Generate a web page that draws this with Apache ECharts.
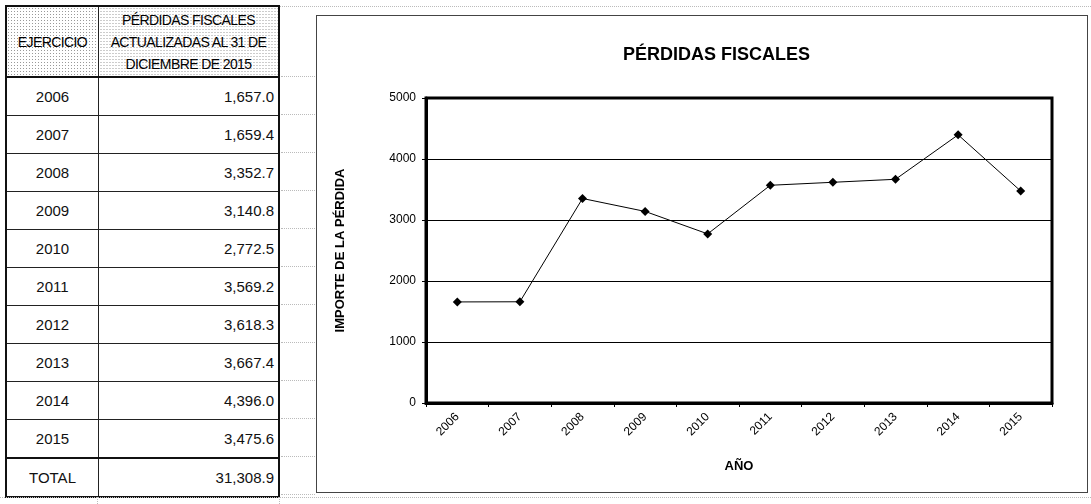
<!DOCTYPE html>
<html>
<head>
<meta charset="utf-8">
<script src="https://cdn.jsdelivr.net/npm/echarts@6/dist/echarts.min.js"></script>
<style>
  body { margin: 0; background: #fff; width: 1091px; height: 504px; position: relative; overflow: hidden; }
  #tabla { position: absolute; left: 5px; top: 5px; border-collapse: collapse; border: 2px solid #111;
    font-family: "Liberation Sans", Arial, sans-serif; color: #111; }
  #tabla td { border: 1px solid #222; padding: 0 4px; height: 37px; font-size: 15px; }
  #tabla td.anio { width: 83px; text-align: center; }
  #tabla td.val { width: 171px; text-align: right; }
  #tabla th { height: 69px; font-weight: normal; font-family: "Liberation Sans Narrow", "Liberation Sans", Arial, sans-serif;
    font-size: 14px; letter-spacing: -0.6px; line-height: 22px; color: #000; border: 1px solid #222; border-bottom: 2px solid #111; padding: 0;
    background-color: #fff; background-image: radial-gradient(#999 0.7px, transparent 0.8px); background-size: 3px 3px; }
  #tabla tr.total td { border-top: 2px solid #111; }
  .dot { position: absolute; border-color: #bbb; border-style: dotted; border-width: 0; }
  #chart { position: absolute; left: 316px; top: 15px; width: 772px; height: 478px; border: 1px solid #444; box-sizing: border-box; }
</style>
</head>
<body>
<table id="tabla"></table>
<div class="dot" style="left:280px;top:6px;width:811px;border-top-width:1px"></div>
<div class="dot" style="left:0;top:497px;width:1091px;border-top-width:1px"></div>
<div class="dot" style="left:97px;top:497px;height:7px;border-left-width:1px"></div>
<div class="dot" style="left:279px;top:497px;height:7px;border-left-width:1px"></div>
<div id="chart"></div>
<script>
const years = ['2006', '2007', '2008', '2009', '2010', '2011', '2012', '2013', '2014', '2015'];
const perdidas = [1657.0, 1659.4, 3352.7, 3140.8, 2772.5, 3569.2, 3618.3, 3667.4, 4396.0, 3475.6];
const yTicks = [0, 1000, 2000, 3000, 4000, 5000];

const fmt = v => v.toLocaleString('en-US', { minimumFractionDigits: 1, maximumFractionDigits: 1 });

// tabla de la izquierda
const tabla = document.getElementById('tabla');
let html = '<tr><th>EJERCICIO</th><th>PÉRDIDAS FISCALES<br>ACTUALIZADAS AL 31 DE<br>DICIEMBRE DE 2015</th></tr>';
years.forEach((y, i) => {
  html += `<tr><td class="anio">${y}</td><td class="val">${fmt(perdidas[i])}</td></tr>`;
});
const total = perdidas.reduce((a, b) => a + b, 0);
html += `<tr class="total"><td class="anio">TOTAL</td><td class="val">${fmt(total)}</td></tr>`;
tabla.innerHTML = html;

// marcas punteadas de la hoja a la derecha de la tabla
for (let i = 0; i <= 11; i++) {
  const d = document.createElement('div');
  d.className = 'dot';
  d.style.cssText = `left:281px;top:${76 + i * 38}px;width:34px;border-top-width:1px`;
  document.body.appendChild(d);
}

const myChart = echarts.init(document.getElementById('chart'));
const font = '"Liberation Sans", Arial, sans-serif';
const option = {
  backgroundColor: '#fff',
  animation: false,
  title: {
    text: 'PÉRDIDAS FISCALES',
    left: 301,
    top: 25,
    textStyle: { fontFamily: font, fontSize: 18, fontWeight: 'bold', color: '#000' },
  },
  grid: {
    left: 109,
    right: 35,
    top: 82,
    bottom: 89,
    show: true,
    borderColor: '#000',
    borderWidth: 3,
  },
  xAxis: {
    type: 'category',
    boundaryGap: true,
    data: years,
    name: 'AÑO',
    nameLocation: 'middle',
    nameGap: 57,
    nameTextStyle: { fontFamily: font, fontSize: 13, fontWeight: 'bold', color: '#000' },
    axisLine: { lineStyle: { color: '#000', width: 3 } },
    axisTick: { show: true, length: 4, lineStyle: { color: '#000' } },
    axisLabel: { rotate: 45, margin: 12, fontFamily: font, fontSize: 12, color: '#000' },
  },
  yAxis: {
    type: 'value',
    min: 0,
    max: 5000,
    interval: 1000,
    name: 'IMPORTE DE LA PÉRDIDA',
    nameLocation: 'middle',
    nameRotate: 90,
    nameGap: 79,
    nameTextStyle: { fontFamily: font, fontSize: 13, fontWeight: 'bold', color: '#000' },
    axisLine: { show: true, lineStyle: { color: '#000', width: 3 } },
    axisTick: { show: true, length: 4, lineStyle: { color: '#000' } },
    axisLabel: {
      margin: 10,
      fontFamily: font,
      fontSize: 12,
      color: '#000',
      formatter: v => (yTicks.indexOf(v) >= 0 ? String(v) : ''),
    },
    splitLine: { show: true, lineStyle: { color: '#000', width: 1 } },
  },
  series: [{
    type: 'line',
    data: perdidas,
    symbol: 'diamond',
    symbolSize: 9,
    itemStyle: { color: '#000' },
    lineStyle: { color: '#000', width: 1 },
  }],
};
myChart.setOption(option);
</script>
</body>
</html>
